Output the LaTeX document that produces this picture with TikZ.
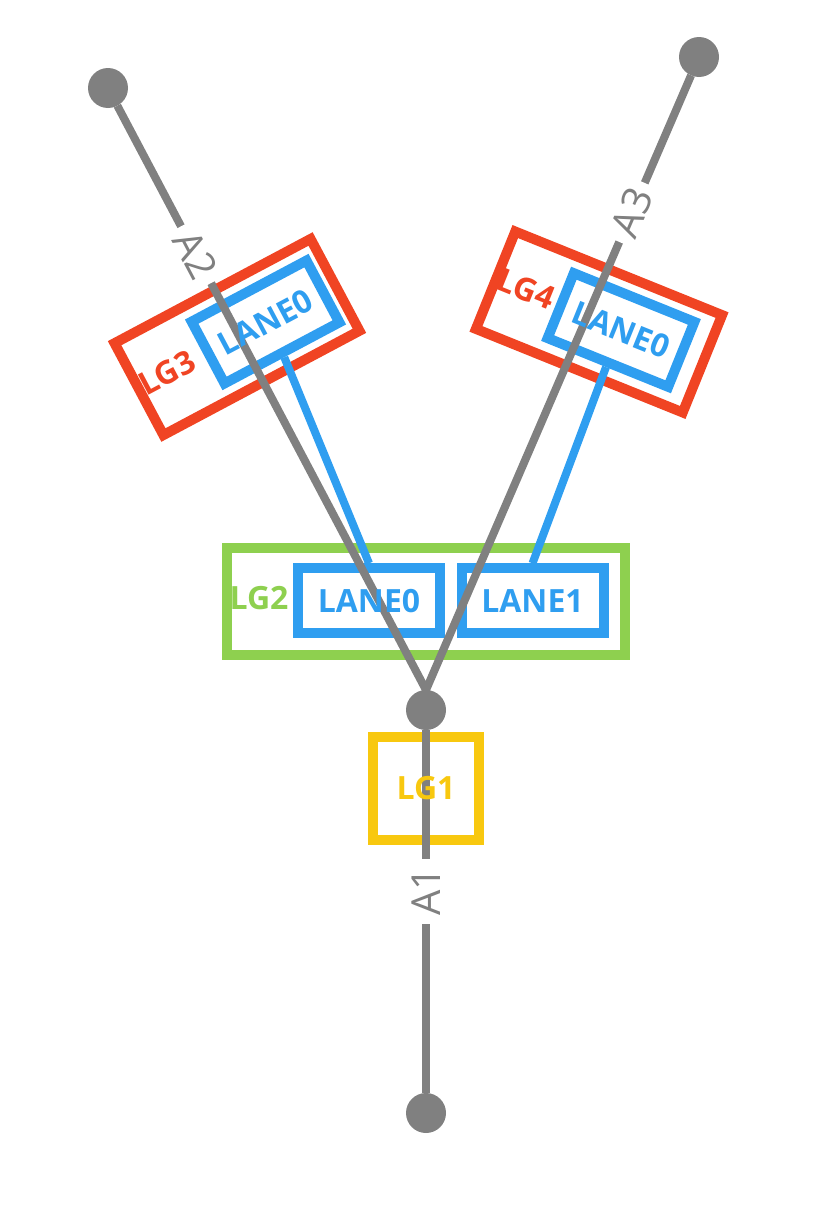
\documentclass[tikz,border=0pt]{standalone}
\usepackage{fontspec}
\setmainfont{Open Sans}
\usepackage{tikz}
\usetikzlibrary{positioning}
\definecolor{wiregray}{HTML}{808080}
\definecolor{lgred}{HTML}{F04423}
\definecolor{laneblue}{HTML}{2F9EF0}
\definecolor{lggreen}{HTML}{8ED04F}
\definecolor{lgyellow}{HTML}{F8C80F}
\tikzset{
  endpt/.style={circle, fill=wiregray, minimum size=20pt, inner sep=0pt, outer sep=0pt},
  wire/.style={draw=wiregray, line width=4pt},
  frame/.style={draw, line width=5pt, inner sep=0pt},
  lgbox/.style={frame, minimum width=111pt, minimum height=52pt},
  lanebox/.style={frame, draw=laneblue, minimum width=65pt, minimum height=35pt},
  link/.style={draw=laneblue, line width=4pt},
  tag/.style={font=\fontsize{16}{16}\selectfont\bfseries, inner sep=0pt},
  wlbl/.style={fill=white, text=wiregray, font=\fontsize{20}{20}\selectfont, inner xsep=4pt, inner ysep=0pt, sloped}
}
\begin{document}
\begin{tikzpicture}[x=0.5pt, y=-0.5pt]
    \useasboundingbox (0,0) rectangle (826,1210);
    % Endpoints
    \node[endpt] (a2end) at (108,88) {};
    \node[endpt] (a3end) at (699,57) {};
    \node[endpt] (hub) at (426,710) {};
    \node[endpt] (a1end) at (426,1113) {};

    % Lane groups
    \node[lgbox, draw=lgred, rotate=28] (lg3) at (237,337) {};
    \node[lanebox, rotate=28] (lg3lane0) at (265.5,322) {};
    \node[lgbox, draw=lgred, rotate=-22, minimum width=111.5pt, minimum height=52.5pt] (lg4) at (599,322) {};
    \node[lanebox, rotate=-22] (lg4lane0) at (621,330) {};
    \node[lgbox, draw=lggreen, minimum width=199pt, minimum height=53.5pt] (lg2) at (426,601.5) {};
    \node[lanebox, minimum width=71pt, minimum height=32.5pt] (lg2lane0) at (369,600.8) {};
    \node[lanebox, minimum width=71pt, minimum height=32.5pt] (lg2lane1) at (532.5,600.8) {};
    \node[lgbox, draw=lgyellow, minimum width=53pt, minimum height=51.5pt] (lg1) at (426,788.5) {};

    % Lane links
    \draw[link] (lg3lane0.south) -- (lg2lane0.north);
    \draw[link] (lg4lane0.south) -- (lg2lane1.north);

    % Wires
    \draw[wire] (a2end) -- node[wlbl, pos=0.255] (a2lbl) {A2} (hub.north);
    \draw[wire] (hub.north) -- node[wlbl, pos=0.777] (a3lbl) {A3} (a3end);
    \draw[wire] (a1end) -- node[wlbl, pos=0.555] (a1lbl) {A1} (hub.south);

    % Labels
    \node[tag, text=lgred, rotate=28] (lg3txt) at (167,373) {LG3};
    \node[tag, text=laneblue, rotate=28] (lg3lane0txt) at (lg3lane0) {LANE0};
    \node[tag, text=lgred, rotate=-22] (lg4txt) at (526,289) {LG4};
    \node[tag, text=laneblue, rotate=-22] (lg4lane0txt) at (lg4lane0) {LANE0};
    \node[tag, text=lggreen] (lg2txt) at (259,598) {LG2};
    \node[tag, text=laneblue] (lg2lane0txt) at (lg2lane0) {LANE0};
    \node[tag, text=laneblue] (lg2lane1txt) at (lg2lane1) {LANE1};
    \node[tag, text=lgyellow] (lg1txt) at (lg1) {LG1};
\end{tikzpicture}
\end{document}
